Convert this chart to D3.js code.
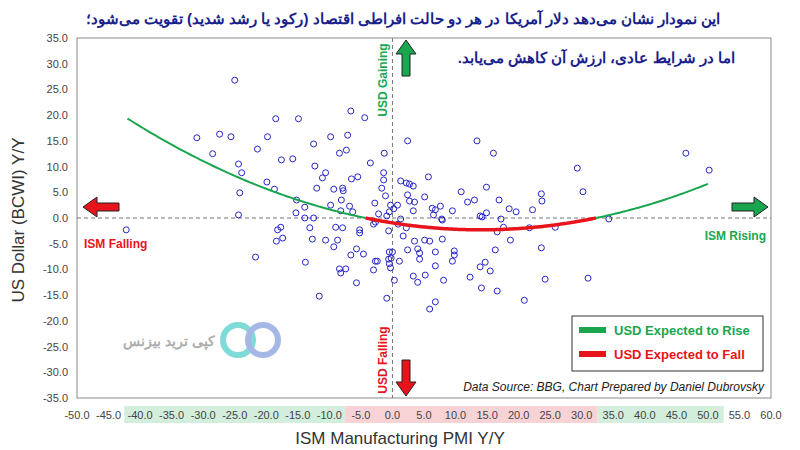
<!DOCTYPE html>
<html>
<head>
<meta charset="utf-8">
<script src="https://cdn.jsdelivr.net/npm/d3@7"></script>
<style>
body{margin:0;background:#fff;}
text{font-family:"Liberation Sans",Arial,sans-serif;}
</style>
</head>
<body>
<script>
// ISM PMI Y/Y vs US Dollar (BCWI) Y/Y
var ismYoY = [-42.2,-25.0,-31.0,-27.4,-25.6,-28.5,-18.5,-14.9,-19.8,-21.4,-24.4,-23.9,-24.2,-24.4,-17.6,-15.8,-19.9,-18.7,-21.7,-17.7,-18.2,-18.4,-17.4,-13.8,-15.2,-13.9,-15.3,-13.9,-12.5,-13.1,-12.7,-10.6,-8.7,-9.3,-9.0,-7.9,-8.4,-8.2,-7.4,-5.7,-6.6,-5.7,-4.6,-5.2,-5.2,-11.6,-9.8,-8.2,-8.1,-6.8,-6.3,-12.0,-11.1,-10.6,-12.3,-12.5,-9.8,-8.4,-7.3,-7.1,-6.6,-4.4,-9.3,-7.9,-7.8,-6.5,-5.5,-3.5,-1.4,-1.4,-1.7,-1.1,-1.3,-2.8,-0.3,0.8,0.2,-0.5,-2.2,-0.9,-3.0,-2.7,-0.6,0.9,1.3,2.2,1.7,2.4,1.3,2.2,2.7,3.3,2.4,2.7,3.5,3.3,5.7,5.1,6.3,6.8,7.6,6.5,7.8,7.9,9.5,10.9,11.9,13.0,14.9,16.9,18.5,19.6,22.2,23.6,23.7,13.9,14.2,14.9,17.2,17.6,16.6,21.7,25.8,18.7,16.3,23.6,13.4,16.0,29.3,3.5,5.1,5.9,7.9,2.4,4.0,4.3,4.3,6.8,9.8,9.8,9.5,6.8,5.2,3.3,4.0,8.1,12.3,13.9,14.7,15.5,14.1,16.6,20.9,24.2,5.9,6.8,0.3,-0.9,1.1,-0.5,0.0,-0.6,-2.4,-2.7,-3.0,-0.5,-0.3,-0.2,46.5,50.2,30.2,34.3,31.0];
var usdYoY = [-2.3,26.8,15.6,16.3,15.8,12.5,19.3,19.3,15.8,13.4,10.5,8.8,4.9,0.6,11.3,11.5,7.0,5.6,-7.6,-1.8,-2.3,-4.5,-3.9,-8.6,3.5,2.1,1.0,0.0,0.0,-1.9,-4.1,-4.3,-4.3,-5.6,-1.8,-1.9,-9.9,-10.7,-9.9,-12.6,-7.2,-6.0,-7.0,-2.3,-2.9,-15.2,2.5,1.4,3.5,2.3,1.2,5.8,7.8,8.8,10.1,14.4,15.8,12.6,13.2,16.1,20.8,19.5,5.6,5.8,5.3,7.6,8.0,10.7,8.8,7.4,5.8,4.3,12.6,2.9,2.5,2.5,1.8,1.2,0.8,0.4,-1.2,-0.8,-2.5,-1.2,-0.2,-1.9,-3.5,15.0,7.2,6.8,6.6,6.2,4.5,3.3,3.1,1.4,8.0,4.1,1.9,1.6,2.3,0.6,-0.2,-0.4,1.4,5.1,3.1,3.5,6.0,3.5,1.8,1.2,1.6,4.7,3.3,0.4,0.2,1.0,-0.2,-1.8,-2.7,-1.9,-1.8,-4.3,-6.2,-5.8,15.0,12.6,9.7,-4.5,-4.3,-4.5,-4.1,-6.2,-6.0,-6.8,-8.0,-6.6,-6.4,-7.2,-8.4,-9.3,-11.1,-11.3,-12.5,-12.1,-11.5,-9.5,-8.6,-10.3,-13.6,-14.2,-16.0,-11.9,-17.7,-16.3,-12.1,-15.6,-8.4,-6.6,-6.6,-8.0,-8.4,-8.4,-10.1,-8.9,-9.7,-7.8,12.6,9.3,5.1,-0.2,-11.7];

// quadratic trend: a*(x-h)^2 + k, drawn from -42 to 50
var trendCoef = [0.0069, 14, -2.3];
var trendRange = [-42, 50];

var xTicks = d3.range(-50, 60.1, 5);
var yTicks = d3.range(-35, 35.1, 5);
var greenBands = [[-42.5, -7.5], [32.5, 52.5]];
var redBands = [[-7.5, 32.5]];

var title1 = "این نمودار نشان می‌دهد دلار آمریکا در هر دو حالت افراطی اقتصاد (رکود یا رشد شدید) تقویت می‌شود؛";
var title2 = "اما در شرایط عادی، ارزش آن کاهش می‌یابد.";

var w = 800, h = 450;
var green = "#1aa64f", red = "#e8141b", navy = "#1a1f8c";

var svg = d3.select("body").append("svg").attr("width", w).attr("height", h);

var x = d3.scaleLinear().domain([-50, 60]).range([77, 771]);
var y = d3.scaleLinear().domain([-35, 35]).range([398, 38]);

// shaded bands under x labels
greenBands.concat(redBands).forEach(function(b, i){
	svg.append("rect")
		.attr("x", x(b[0])).attr("width", x(b[1]) - x(b[0]))
		.attr("y", 406).attr("height", 17)
		.attr("fill", i < greenBands.length ? "#d3eedd" : "#f8d3d6");
});

svg.append("rect")
	.attr("x", 77).attr("y", 38)
	.attr("width", 694).attr("height", 360)
	.attr("fill", "none").attr("stroke", "#8a8a8a");

// axes labels
svg.selectAll(".yt").data(yTicks).enter().append("text")
	.attr("x", 68).attr("y", function(d){ return y(d) + 4; })
	.attr("text-anchor", "end").attr("font-size", 11).attr("fill", "#444")
	.attr("font-family", "Liberation Sans Narrow")
	.text(function(d){ return d.toFixed(1); });

svg.selectAll(".xt").data(xTicks).enter().append("text")
	.attr("x", function(d){ return x(d); }).attr("y", 419)
	.attr("text-anchor", "middle").attr("font-size", 11).attr("fill", "#444")
	.attr("font-family", "Liberation Sans Narrow")
	.text(function(d){ return d.toFixed(1); });

svg.append("text").attr("x", 400).attr("y", 444).attr("text-anchor", "middle")
	.attr("font-size", 17).attr("fill", "#333").attr("font-family", "Open Sans")
	.text("ISM Manufacturing PMI Y/Y");

svg.append("text").attr("transform", "translate(24,220) rotate(-90)")
	.attr("text-anchor", "middle").attr("font-size", 17).attr("fill", "#333")
	.attr("font-family", "Open Sans")
	.text("US Dollar (BCWI) Y/Y");

// dashed zero lines
svg.append("line").attr("x1", 77).attr("x2", 771).attr("y1", y(0)).attr("y2", y(0))
	.attr("stroke", "#777").attr("stroke-dasharray", "4,3");
svg.append("line").attr("x1", x(0)).attr("x2", x(0)).attr("y1", 38).attr("y2", 398)
	.attr("stroke", "#777").attr("stroke-dasharray", "4,3");

// watermark
var wm = svg.append("g").attr("opacity", 0.8);
wm.append("circle").attr("cx", 238).attr("cy", 340).attr("r", 15).attr("fill", "none")
	.attr("stroke", "#5fd3cf").attr("stroke-width", 6);
wm.append("circle").attr("cx", 263).attr("cy", 340).attr("r", 15).attr("fill", "none")
	.attr("stroke", "#8fa6e0").attr("stroke-width", 6);
wm.append("text").attr("x", 215).attr("y", 346).attr("text-anchor", "end")
	.attr("font-size", 14).attr("font-weight", "bold").attr("fill", "#999")
	.attr("font-family", "DejaVu Sans").text("کپی ترید بیزنس");

// scatter
svg.selectAll(".pt").data(ismYoY).enter().append("circle")
	.attr("cx", function(d){ return x(d); })
	.attr("cy", function(d, i){ return y(usdYoY[i]); })
	.attr("r", 3).attr("fill", "none").attr("stroke", "#2626c8").attr("stroke-width", 1);

// trend curve
function trend(v){ return trendCoef[0] * (v - trendCoef[1]) * (v - trendCoef[1]) + trendCoef[2]; }
var root = Math.sqrt(-trendCoef[2] / trendCoef[0]);
var segs = [
	[trendRange[0], trendCoef[1] - root, green, 2],
	[trendCoef[1] - root, trendCoef[1] + root, red, 3.5],
	[trendCoef[1] + root, trendRange[1], green, 2]
];
var line = d3.line().x(function(d){ return x(d); }).y(function(d){ return y(trend(d)); }).curve(d3.curveBasis);
segs.forEach(function(s){
	var pts = d3.range(s[0], s[1], 0.5).concat([s[1]]);
	svg.append("path").attr("d", line(pts)).attr("fill", "none")
		.attr("stroke", s[2]).attr("stroke-width", s[3]);
});

// arrows
function arrow(cx, cy, dir, col){
	// dir: angle in degrees, arrow points right at 0
	var p = "M-18,-4 L4,-4 L4,-10 L18,0 L4,10 L4,4 L-18,4 Z";
	svg.append("path").attr("d", p)
		.attr("transform", "translate(" + cx + "," + cy + ") rotate(" + dir + ")")
		.attr("fill", col).attr("stroke", "#222").attr("stroke-width", 1);
}
arrow(406, 58, -90, green);
arrow(406, 378, 90, red);
arrow(101, 207, 180, red);
arrow(750, 207, 0, green);

svg.append("text").attr("transform", "translate(387,80) rotate(-90)")
	.attr("text-anchor", "middle").attr("font-size", 12).attr("font-weight", "bold")
	.attr("fill", green).text("USD Gaining");
svg.append("text").attr("transform", "translate(387,360) rotate(-90)")
	.attr("text-anchor", "middle").attr("font-size", 12).attr("font-weight", "bold")
	.attr("fill", red).text("USD Falling");
svg.append("text").attr("x", 84).attr("y", 248).attr("font-size", 12)
	.attr("font-weight", "bold").attr("fill", red).text("ISM Falling");
svg.append("text").attr("x", 766).attr("y", 240).attr("text-anchor", "end").attr("font-size", 12)
	.attr("font-weight", "bold").attr("fill", green).text("ISM Rising");

// legend
svg.append("rect").attr("x", 572).attr("y", 316).attr("width", 191).attr("height", 55)
	.attr("fill", "#fff").attr("stroke", "#333");
[["USD Expected to Rise", green], ["USD Expected to Fall", red]].forEach(function(l, i){
	svg.append("rect").attr("x", 579).attr("y", 327 + i * 24).attr("width", 27).attr("height", 6)
		.attr("fill", l[1]);
	svg.append("text").attr("x", 614).attr("y", 335 + i * 24).attr("font-size", 13)
		.attr("font-weight", "bold").attr("fill", l[1]).attr("font-family", "Open Sans").text(l[0]);
});

svg.append("text").attr("x", 764).attr("y", 391).attr("text-anchor", "end")
	.attr("font-size", 12).attr("font-style", "italic").attr("fill", "#222")
	.attr("font-family", "Open Sans")
	.text("Data Source: BBG, Chart Prepared by Daniel Dubrovsky");

// titles
svg.append("text").attr("x", 403).attr("y", 24).attr("text-anchor", "middle")
	.attr("direction", "rtl").attr("font-size", 15).attr("font-weight", "bold")
	.attr("fill", navy).attr("font-family", "DejaVu Sans").text(title1);
svg.append("text").attr("x", 735).attr("y", 63).attr("text-anchor", "start")
	.attr("direction", "rtl").attr("font-size", 15).attr("font-weight", "bold")
	.attr("fill", navy).attr("font-family", "DejaVu Sans").text(title2);
</script>
</body>
</html>
